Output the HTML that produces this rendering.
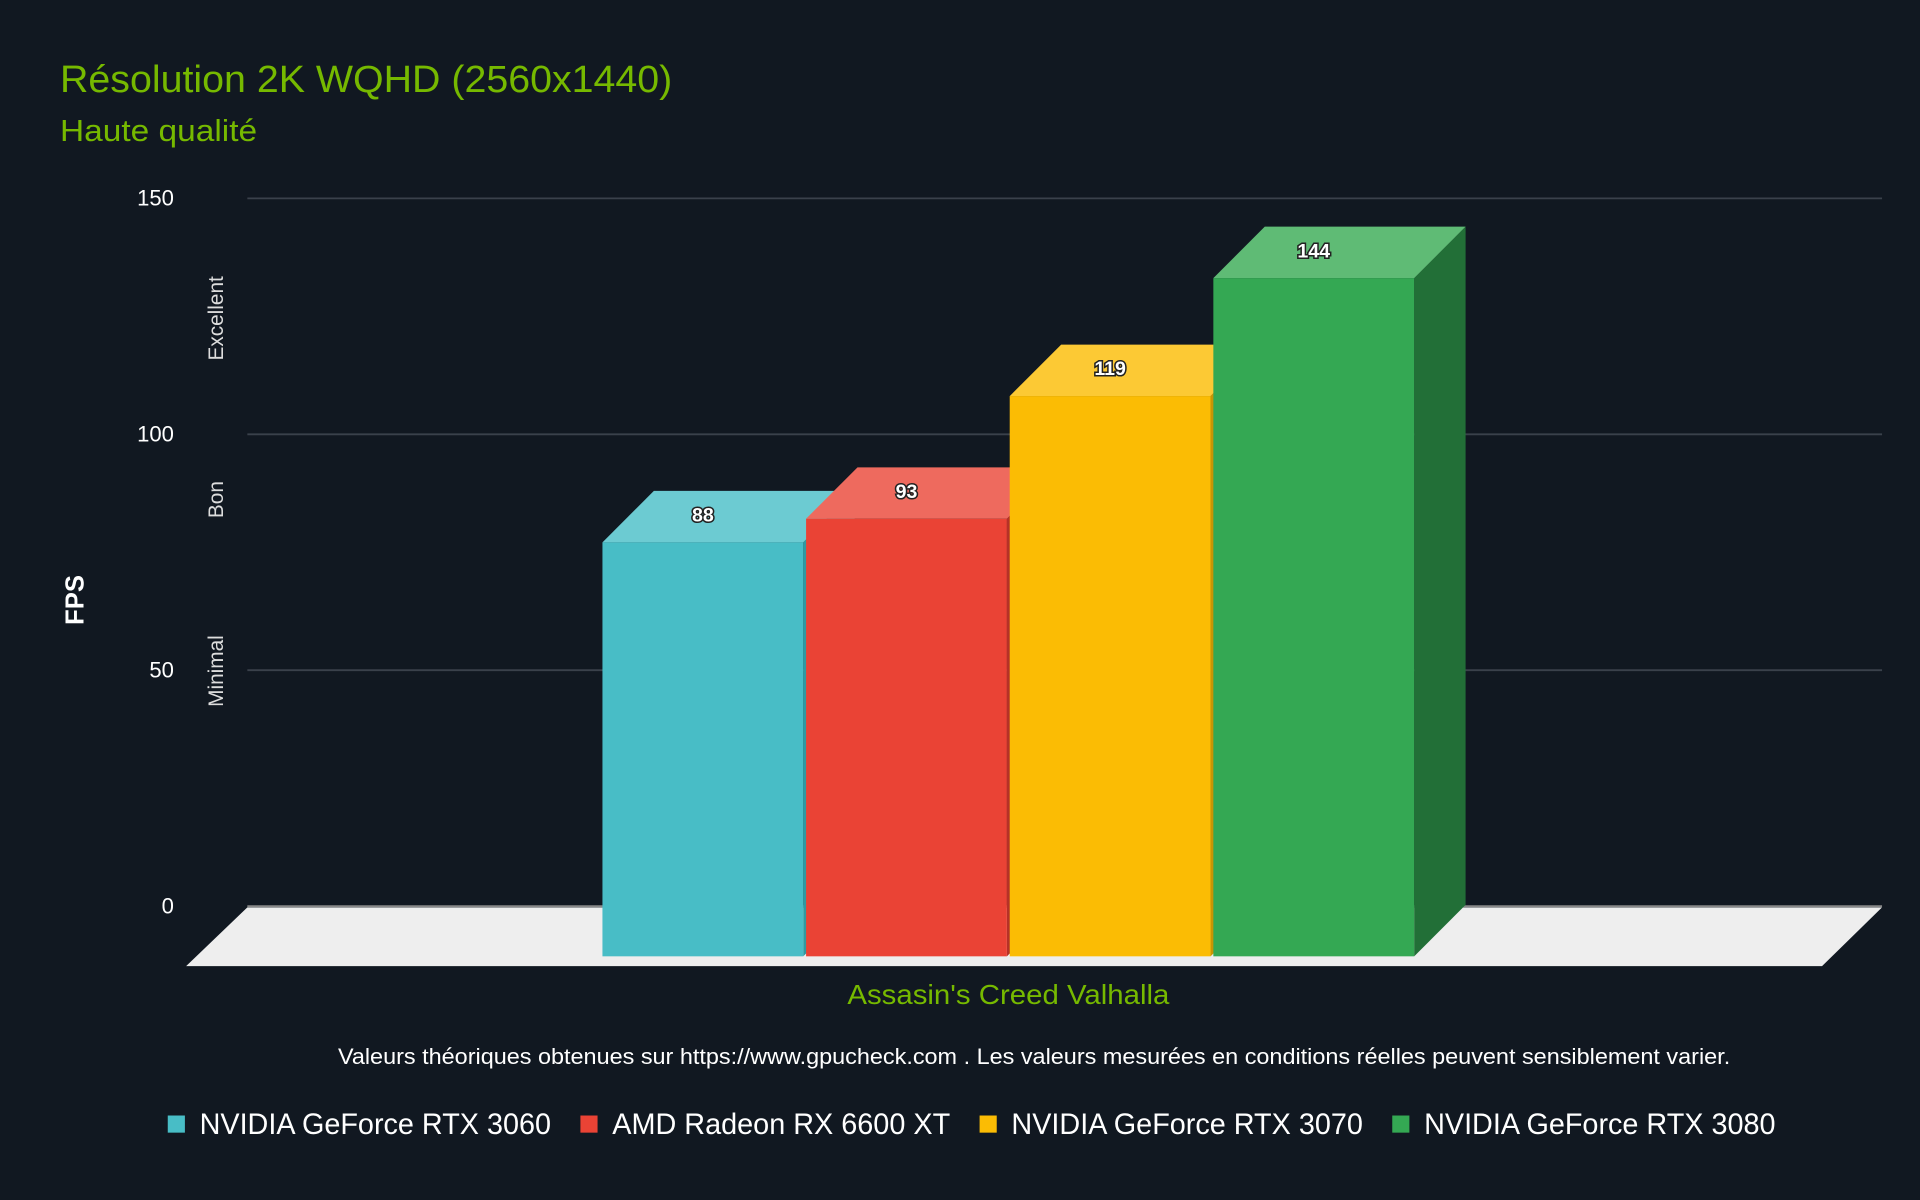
<!DOCTYPE html>
<html><head><meta charset="utf-8"><style>
html,body{margin:0;padding:0;background:#111821;}
svg{display:block;}
text{font-family:"Liberation Sans",sans-serif;}
</style></head><body>
<svg id="chart" width="1920" height="1200" viewBox="0 0 1568 980" xmlns="http://www.w3.org/2000/svg">
<rect width="1568" height="980" fill="#111821"/>
<text x="49" y="75" fill="#76b900" font-size="31" textLength="500" lengthAdjust="spacingAndGlyphs">Résolution 2K WQHD (2560x1440)</text>
<text x="49" y="115" fill="#76b900" font-size="25" textLength="161" lengthAdjust="spacingAndGlyphs">Haute qualité</text>
<g id="grid"></g>
<polygon points="202,741 1537,741 1488,789 152,789" fill="#eeeeee"/>
<g id="bars"></g>
<text transform="translate(68,490) rotate(-90)" text-anchor="middle" fill="#fff" font-size="21" font-weight="bold">FPS</text>
<text transform="translate(182,260) rotate(-90)" text-anchor="middle" fill="#ddd" font-size="17">Excellent</text>
<text transform="translate(182,408) rotate(-90)" text-anchor="middle" fill="#ddd" font-size="17">Bon</text>
<text transform="translate(182,548) rotate(-90)" text-anchor="middle" fill="#ddd" font-size="17">Minimal</text>
<text x="692" y="820" fill="#76b900" font-size="23" textLength="263" lengthAdjust="spacingAndGlyphs">Assasin's Creed Valhalla</text>
<text x="276" y="869" fill="#fff" font-size="18" textLength="1137" lengthAdjust="spacingAndGlyphs">Valeurs théoriques obtenues sur https://www.gpucheck.com . Les valeurs mesurées en conditions réelles peuvent sensiblement varier.</text>
<g id="legend"></g>
</svg>
<script>
const categories = ["NVIDIA GeForce RTX 3060","AMD Radeon RX 6600 XT","NVIDIA GeForce RTX 3070","NVIDIA GeForce RTX 3080"];
const values = [88, 93, 119, 144];
const yTicks = [0, 50, 100, 150];
const colors = [["#48bdc6","#6ccbd2","#2f9aa2"],["#ea4335","#ee6a5e","#b53227"],["#fbbc04","#fcc934","#c99503"],["#34a853","#5fbb75","#226f37"]];
const NS="http://www.w3.org/2000/svg";
const baseY=740, unit=(740-162)/150, dx=42, dy=42;
const y=v=>baseY-v*unit;
const barX=i=>492+i*166.3, barW=164;
function mk(t,a,p){const e=document.createElementNS(NS,t);for(const k in a)e.setAttribute(k,a[k]);p.appendChild(e);return e;}
const grid=document.getElementById('grid');
yTicks.forEach(t=>{
  const l=mk('line',{x1:202,x2:1537,y1:y(t),y2:y(t),stroke:t===0?'#888':'#3a414b','stroke-width':1.5},grid);
  
  
  const tx=mk('text',{x:142,y:y(t)+6,'text-anchor':'end',fill:'#fff','font-size':18},grid);
  tx.textContent=t;
  
  
});
const bars=document.getElementById('bars');
values.forEach((v,i)=>{
  const g=mk('g',{},bars);
  
  
  const x0=barX(i), x1=x0+barW, bt=y(v)+dy, bb=baseY+dy-1;
  mk('polygon',{points:`${x1},${bt} ${x1+dx},${bt-dy} ${x1+dx},${bb-dy} ${x1},${bb}`,fill:colors[i][2]},g);
  mk('polygon',{points:`${x0},${bt} ${x0+dx},${bt-dy} ${x1+dx},${bt-dy} ${x1},${bt}`,fill:colors[i][1]},g);
  mk('rect',{x:x0,y:bt,width:barW,height:bb-bt,fill:colors[i][0]},g);
  const t=mk('text',{x:x0+barW/2,y:bt-dy/2+4,'text-anchor':'middle',fill:'#fff',stroke:'#222','stroke-width':2.5,'paint-order':'stroke','font-size':16,'font-weight':'bold'},g);
  t.textContent=v;
  
  
});
const legend=document.getElementById('legend');
const lx=[137,474,800,1137];
const lw=[287,276,287,287];
categories.forEach((c,i)=>{
  const g=mk('g',{},legend);
  
  
  mk('rect',{x:lx[i],y:911,width:14,height:14,fill:colors[i][0]},g);
  const t=mk('text',{x:lx[i]+26,y:926,fill:'#fff','font-size':24,textLength:lw[i],lengthAdjust:'spacingAndGlyphs'},g);
  t.textContent=c;
});
</script>
</body></html>
